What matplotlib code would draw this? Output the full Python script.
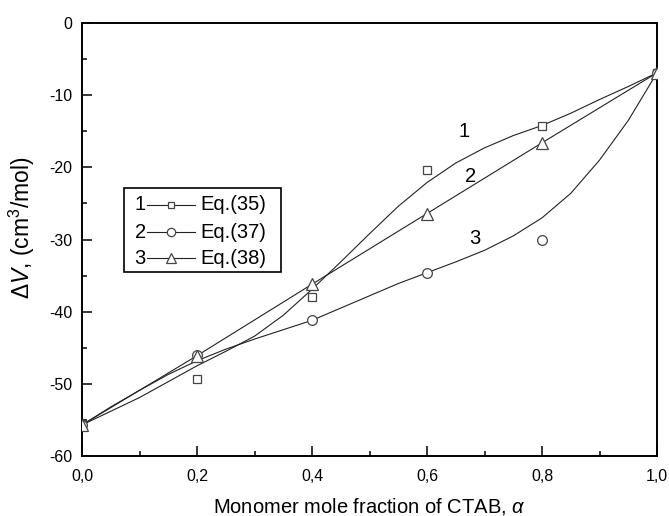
import matplotlib
matplotlib.use('Agg')
import matplotlib.pyplot as plt
from matplotlib.ticker import MultipleLocator, FuncFormatter
from matplotlib.patches import Rectangle

plt.rcParams['font.family'] = ['Liberation Sans', 'DejaVu Sans']
plt.rcParams['mathtext.fontset'] = 'custom'
plt.rcParams['mathtext.rm'] = 'Liberation Sans'
plt.rcParams['mathtext.it'] = 'Liberation Sans:italic'
plt.rcParams['axes.unicode_minus'] = False

# ---- data ----
alpha_pts = [0.0, 0.2, 0.4, 0.6, 0.8, 1.0]
dv_eq35 = [-55.7, -49.3, -38.0, -20.4, -14.3, -6.9]
dv_eq37 = [-55.7, -46.0, -41.2, -34.6, -30.1, -6.9]
dv_eq38 = [-55.7, -46.1, -36.2, -26.4, -16.6, -6.9]

# smooth curves drawn through eq.35 and eq.37 points
alpha_fit = [0.00, 0.05, 0.10, 0.15, 0.20, 0.25, 0.30, 0.35, 0.40, 0.45, 0.50,
             0.55, 0.60, 0.65, 0.70, 0.75, 0.80, 0.85, 0.90, 0.95, 1.00]
fit_eq35 = [-55.7, -53.8, -51.9, -49.7, -47.5, -45.5, -43.4, -40.5, -36.9, -33.1, -29.2,
            -25.4, -22.1, -19.4, -17.3, -15.6, -14.2, -12.5, -10.6, -8.8, -6.9]
fit_eq37 = [-55.7, -53.2, -50.9, -48.7, -46.8, -45.2, -43.8, -42.5, -41.2, -39.5, -37.8,
            -36.1, -34.6, -33.1, -31.5, -29.5, -27.0, -23.6, -19.0, -13.5, -6.9]

curve_numbers = ['1', '2', '3']
curve_text_pos = [(0.665, -15.0), (0.675, -21.3), (0.683, -29.8)]
legend_labels = ['Eq.(35)', 'Eq.(37)', 'Eq.(38)']
markers = ['s', 'o', '^']
msizes = [6, 7, 8]

line_col = '#222222'
mk_col = '#444444'

fig = plt.figure(figsize=(6.69, 5.16), dpi=100)
ax = fig.add_axes([0.1226, 0.1163, 0.8595, 0.8391])

# curves
ax.plot(alpha_fit, fit_eq35, color=line_col, lw=0.8, zorder=2)
ax.plot(alpha_fit, fit_eq37, color=line_col, lw=0.8, zorder=2)
ax.plot(alpha_pts, dv_eq38, color=line_col, lw=0.8, zorder=2)

# points
for y, mk, ms in zip([dv_eq35, dv_eq37, dv_eq38], markers, msizes):
    ax.plot(alpha_pts, y, ls='none', marker=mk, ms=ms, mfc='white',
            mec=mk_col, mew=0.9, zorder=3)

for t, (xx, yy) in zip(curve_numbers, curve_text_pos):
    ax.text(xx, yy, t, fontsize=14.5, ha='center', va='center')

ax.set_xlim(0, 1.0)
ax.set_ylim(-60, 0)
ax.xaxis.set_major_locator(MultipleLocator(0.2))
ax.xaxis.set_minor_locator(MultipleLocator(0.1))
ax.yaxis.set_major_locator(MultipleLocator(10))
ax.yaxis.set_minor_locator(MultipleLocator(5))
ax.xaxis.set_major_formatter(FuncFormatter(lambda v, p: f'{v:.1f}'.replace('.', ',')))
ax.yaxis.set_major_formatter(FuncFormatter(lambda v, p: f'{v:.0f}'))

ax.tick_params(which='both', direction='in', top=False, right=False, width=1.1,
               labelsize=11.5)
ax.tick_params(which='major', length=7)
ax.tick_params(which='minor', length=3.8)
ax.tick_params(axis='x', pad=9.5)
ax.tick_params(axis='y', pad=7)
for s in ax.spines.values():
    s.set_linewidth(1.4)

ax.set_xlabel(r'Monomer mole fraction of CTAB, $\alpha$', fontsize=14.5)
ax.set_ylabel(r'$\Delta V$, (cm$^3$/mol)', fontsize=16.5)
ax.xaxis.set_label_coords(0.5, -0.092)
ax.yaxis.set_label_coords(-0.078, 0.527)

# hand-made legend: "1—□— Eq.(35)"
ax.add_patch(Rectangle((0.073, 0.425), 0.273, 0.194, transform=ax.transAxes,
                       fill=False, lw=1.2, ec='black', zorder=4))
row_y = [0.580, 0.517, 0.457]
for ry, num, lab, mk, ms in zip(row_y, curve_numbers, legend_labels, markers, msizes):
    ax.text(0.101, ry, num, transform=ax.transAxes, fontsize=14.5,
            ha='center', va='center')
    ax.plot([0.113, 0.197], [ry, ry], transform=ax.transAxes, color=line_col,
            lw=0.8, clip_on=False, zorder=4)
    ax.plot([0.155], [ry], transform=ax.transAxes, marker=mk, ms=ms - 1,
            mfc='white', mec=mk_col, mew=0.9, ls='none', clip_on=False, zorder=5)
    ax.text(0.205, ry, lab, transform=ax.transAxes, fontsize=14.5,
            ha='left', va='center')

fig.savefig('out.png', dpi=100)
